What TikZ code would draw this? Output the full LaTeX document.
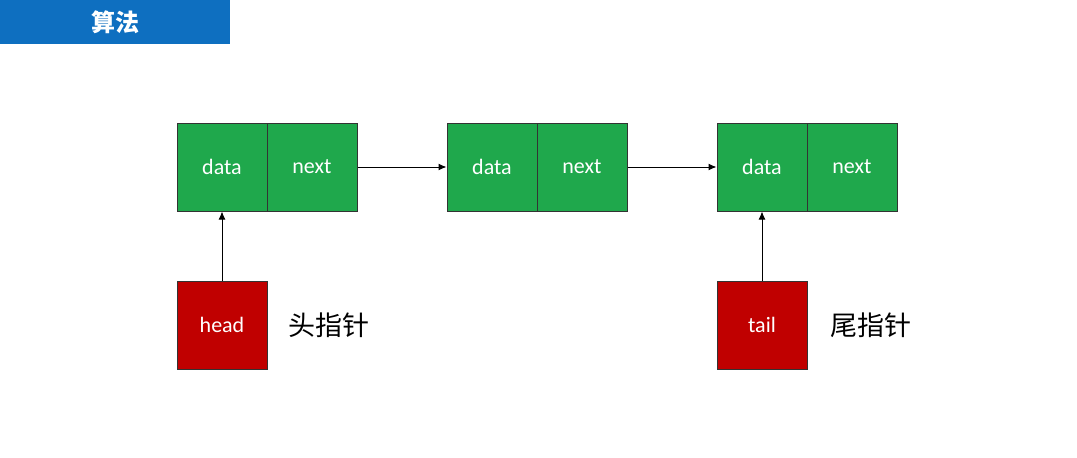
\documentclass[tikz,border=0pt]{standalone}
\usepackage{fontspec}
\setmainfont{Carlito}
\newfontfamily\cjk{Noto Sans CJK SC}
\usetikzlibrary{arrows.meta}
\definecolor{gfill}{HTML}{1FA84C}
\definecolor{rfill}{HTML}{C00000}
\definecolor{bban}{HTML}{0E6FC0}
\tikzset{
  cell/.style={draw=black!80, line width=1pt, fill=gfill, minimum width=90pt, minimum height=88pt, inner sep=0pt, text=white, font=\fontsize{22}{26}\selectfont},
  ptr/.style={draw=black!80, line width=1pt, fill=rfill, minimum width=90pt, minimum height=88pt, inner sep=0pt, text=white, font=\fontsize{22}{26}\selectfont},
  lbl/.style={font=\cjk\fontsize{27}{32}\selectfont, anchor=west, inner sep=0pt},
  link/.style={line width=1pt, -{Latex[length=8pt,width=7pt]}}
}
\begin{document}
\begin{tikzpicture}[x=1pt,y=-1pt]
\useasboundingbox (0,0) rectangle (1077,458);
\fill[white] (0,0) rectangle (1077,458);
\node[fill=bban, minimum width=230pt, minimum height=44pt, inner sep=0pt, anchor=north west, text=white, font=\cjk\bfseries\fontsize{24}{28}\selectfont] (ban) at (0,0) {算法};
\node[cell] (d1) at (222,167) {data};
\node[cell] (n1) at (312,167) {next};
\node[cell] (d2) at (492,167) {data};
\node[cell] (n2) at (582,167) {next};
\node[cell] (d3) at (762,167) {data};
\node[cell] (n3) at (852,167) {next};
\node[ptr] (h) at (222,325) {head};
\node[ptr] (t) at (762,325) {tail};
\node[lbl] (hl) at (288,325) {头指针};
\node[lbl] (tl) at (830,325) {尾指针};
\draw[link] (n1.east) -- (d2.west);
\draw[link] (n2.east) -- (d3.west);
\draw[link] (h.north) -- (d1.south);
\draw[link] (t.north) -- (d3.south);
\end{tikzpicture}
\end{document}
